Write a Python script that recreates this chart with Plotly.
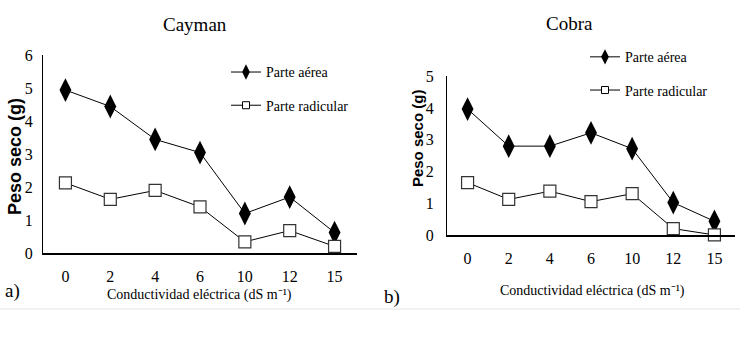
import plotly.graph_objects as go

categories = ["0", "2", "4", "6", "10", "12", "15"]
cayman_aerea = [4.95, 4.45, 3.45, 3.05, 1.2, 1.7, 0.62]
cayman_radicular = [2.13, 1.63, 1.9, 1.4, 0.34, 0.68, 0.2]
cobra_aerea = [3.97, 2.8, 2.8, 3.22, 2.72, 1.02, 0.43]
cobra_radicular = [1.65, 1.12, 1.38, 1.05, 1.3, 0.2, 0.0]

series_names = ["Parte aérea", "Parte radicular"]
titles = ["Cayman", "Cobra"]
panel_labels = ["a)", "b)"]
xtitle = "Conductividad eléctrica (dS m⁻¹)"
ytitle = "Peso seco (g)"

W, H = 744, 337
def px(x):
    return x / W
def py(y):
    return (H - y) / H

SERIF = "Liberation Serif, Times New Roman, serif"

fig = go.Figure()

def add_series(vals_a, vals_r, xa, ya, legend):
    fig.add_trace(go.Scatter(
        x=categories, y=vals_a, name=series_names[0], mode="lines+markers",
        line=dict(color="black", width=1),
        marker=dict(symbol="diamond-tall", size=17, color="black"),
        xaxis=xa, yaxis=ya, showlegend=False, cliponaxis=False))
    fig.add_trace(go.Scatter(
        x=categories, y=vals_r, name=series_names[1], mode="lines+markers",
        line=dict(color="black", width=1),
        marker=dict(symbol="square", size=12, color="white",
                    line=dict(color="#333333", width=1.2)),
        xaxis=xa, yaxis=ya, showlegend=False, cliponaxis=False))
    # legend entries (smaller symbols, as in the reference legend)
    fig.add_trace(go.Scatter(
        x=[None], y=[None], name=series_names[0], mode="lines+markers",
        line=dict(color="black", width=1),
        marker=dict(symbol="diamond-tall", size=11, color="black"),
        xaxis=xa, yaxis=ya, legend=legend, legendgroup=legend + "a"))
    fig.add_trace(go.Scatter(
        x=[None], y=[None], name=series_names[1], mode="lines+markers",
        line=dict(color="black", width=1),
        marker=dict(symbol="square", size=7, color="white",
                    line=dict(color="black", width=1)),
        xaxis=xa, yaxis=ya, legend=legend, legendgroup=legend + "r"))

add_series(cayman_aerea, cayman_radicular, "x", "y", "legend")
add_series(cobra_aerea, cobra_radicular, "x2", "y2", "legend2")

xcommon = dict(type="category", range=[-0.5, 6.5], showline=True, linecolor="black",
               linewidth=2, showgrid=False, zeroline=False, ticks="",
               tickfont=dict(family=SERIF, size=16, color="black"), fixedrange=True)
ycommon = dict(showline=True, linecolor="black", linewidth=1, showgrid=False,
               zeroline=False, ticks="", tickfont=dict(family=SERIF, size=16, color="black"),
               dtick=1, fixedrange=True)

legfont = dict(family=SERIF, size=14, color="black")

fig.update_layout(
    width=W, height=H, margin=dict(l=0, r=0, t=0, b=0),
    paper_bgcolor="white", plot_bgcolor="white", showlegend=True,
    xaxis=dict(xcommon, domain=[px(43), px(357)], anchor="y", ticklabelstandoff=8),
    yaxis=dict(ycommon, domain=[py(258), py(50)], range=[0, 6], anchor="x",
               ticklabelstandoff=6),
    xaxis2=dict(xcommon, domain=[px(447), px(735)], anchor="y2", ticklabelstandoff=8),
    yaxis2=dict(ycommon, domain=[py(239), py(72)], range=[0, 5], anchor="x2",
                ticklabelstandoff=9),
    legend=dict(x=px(226), y=py(51), xanchor="left", yanchor="top", font=legfont,
                bgcolor="rgba(0,0,0,0)", itemwidth=30, tracegroupgap=12),
    legend2=dict(x=px(585), y=py(35), xanchor="left", yanchor="top", font=legfont,
                 bgcolor="rgba(0,0,0,0)", itemwidth=30, tracegroupgap=12),
)

annotations = [
    dict(text=titles[0], x=px(195), y=py(17), font=dict(family=SERIF, size=19)),
    dict(text=titles[1], x=px(569), y=py(16), font=dict(family=SERIF, size=19)),
    dict(text=xtitle, x=px(199), y=py(302), font=dict(family=SERIF, size=14)),
    dict(text=xtitle, x=px(592), y=py(298), font=dict(family=SERIF, size=14)),
    dict(text=panel_labels[0], x=px(12), y=py(298), font=dict(family=SERIF, size=19)),
    dict(text=panel_labels[1], x=px(392), y=py(304), font=dict(family=SERIF, size=19)),
    dict(text="<b>" + ytitle + "</b>", x=px(15), y=py(157), textangle=-90,
         font=dict(family="Liberation Sans, Arial, sans-serif", size=18)),
    dict(text="<b>" + ytitle + "</b>", x=px(417), y=py(137), textangle=-90,
         font=dict(family="Liberation Sans, Arial, sans-serif", size=15)),
]
for a in annotations:
    a.update(xref="paper", yref="paper", showarrow=False, xanchor="center", yanchor="middle")
    a["font"]["color"] = "black"
fig.update_layout(annotations=annotations)

fig.add_shape(type="line", xref="paper", yref="paper", x0=0, x1=px(740),
              y0=py(317), y1=py(317), line=dict(color="#e3e3e3", width=1))

fig.write_html("out.html", config={"displayModeBar": False},
               post_script="document.body.style.margin='0';document.body.style.overflow='hidden';")
